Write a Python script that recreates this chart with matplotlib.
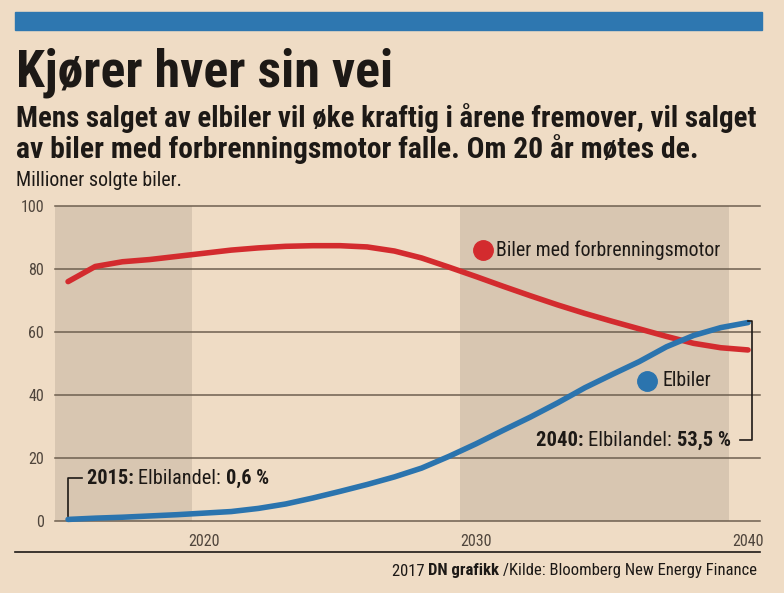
import matplotlib
matplotlib.use("Agg")
import matplotlib.pyplot as plt
from matplotlib import font_manager

# ---- data ----
years = list(range(2015, 2041))
ice_sales = [76.0, 80.8, 82.3, 83.0, 84.0, 85.0, 86.0, 86.7, 87.2, 87.4, 87.4, 87.0, 85.7,
             83.5, 80.6, 77.6, 74.5, 71.5, 68.6, 65.9, 63.4, 61.0, 58.6, 56.4, 55.0, 54.3]
ev_sales = [0.5, 0.9, 1.2, 1.6, 2.0, 2.5, 3.0, 4.0, 5.4, 7.3, 9.4, 11.6, 14.0,
            16.8, 20.5, 24.5, 28.8, 33.0, 37.5, 42.3, 46.5, 50.6, 55.3, 58.9, 61.4, 63.0]
y_ticks = [0, 20, 40, 60, 80, 100]
x_ticks = [2020, 2030, 2040]
shade_spans = [(2014.52, 2019.56), (2029.4, 2039.3)]

title = "Kjører hver sin vei"
subtitle1 = "Mens salget av elbiler vil øke kraftig i årene fremover, vil salget"
subtitle2 = "av biler med forbrenningsmotor falle. Om 20 år møtes de."
unit_label = "Millioner solgte biler."
legend_ice = "Biler med forbrenningsmotor"
legend_ev = "Elbiler"
note_2015 = [("2015: ", "bold"), ("Elbilandel: ", "normal"), ("0,6 %", "heavy")]
note_2040 = [("2040: ", "bold"), ("Elbilandel: ", "normal"), ("53,5 %", "heavy")]
footer = [("2017 ", "normal"), ("DN grafikk", "heavy"), (" /Kilde: Bloomberg New Energy Finance", "normal")]

# ---- style ----
W, H = 784, 593
BG = "#efdcc5"
SHADE = "#d8c6b1"
GRID = "#6e5f50"
RED = "#d32b2e"
BLUE = "#2b74ae"
BAR = "#2e77b0"
INK = "#1d1916"
TICK = "#4f453c"


def pick(cands):
    for c in cands:
        try:
            font_manager.findfont(font_manager.FontProperties(family=c), fallback_to_default=False)
            return c
        except Exception:
            pass
    return "DejaVu Sans"


NARROW = pick(["Liberation Sans Narrow", "Roboto Condensed", "Open Sans Condensed", "Roboto", "Lato"])
FAM = [NARROW, "DejaVu Sans"]

fig = plt.figure(figsize=(W / 100, H / 100), dpi=100)
fig.patch.set_facecolor(BG)
renderer = fig.canvas.get_renderer()


def fx(px):
    return px / W


def fy(py):
    return 1 - py / H


def fit_text(x, y, s, width, size, **kw):
    t = fig.text(fx(x), fy(y), s, fontsize=size, family=FAM, **kw)
    w = t.get_window_extent(renderer).width
    t.set_fontsize(size * width / w)
    return t


def seq_text(x, y, parts, size, ha="left", color=INK):
    # place several runs of text next to each other, in pixels
    widths = []
    for s, wgt in parts:
        t = fig.text(0, 0, s, fontsize=size, family=FAM, fontweight=wgt)
        widths.append(t.get_window_extent(renderer).width)
        t.remove()
    total = sum(widths)
    cx = x if ha == "left" else x - total
    for (s, wgt), w in zip(parts, widths):
        fig.text(fx(cx), fy(y), s, fontsize=size, family=FAM, fontweight=wgt,
                 color=color, va="center", ha="left")
        cx += w


# top blue bar
fig.patches.append(plt.Rectangle((fx(15), fy(30)), fx(762) - fx(15), fy(12) - fy(30),
                                 transform=fig.transFigure, color=BAR, zorder=0))

fit_text(16, 86, title, 376, 40, fontweight="heavy", color=INK, va="baseline")
fit_text(16, 127, subtitle1, 741, 17, fontweight="bold", color=INK, va="baseline")
fit_text(16, 158, subtitle2, 684, 17, fontweight="bold", color=INK, va="baseline")
fit_text(16, 186, unit_label, 166, 10, color=INK, va="baseline")

# ---- chart ----
ax = fig.add_axes([fx(55), fy(521), fx(760) - fx(55), fy(206) - fy(521)])
ax.set_facecolor("none")
ax.set_xlim(2014.52, 2040.44)
ax.set_ylim(0, 100)
for s in ax.spines.values():
    s.set_visible(False)

for a, b in shade_spans:
    ax.axvspan(a, b, color=SHADE, zorder=0, lw=0)
for v in y_ticks:
    ax.axhline(v, color=GRID, lw=1.1, zorder=1, clip_on=False)

ax.plot(years, ice_sales, color=RED, lw=4.0, solid_capstyle="round", solid_joinstyle="round",
        zorder=3, clip_on=False)
ax.plot(years, ev_sales, color=BLUE, lw=4.0, solid_capstyle="round", solid_joinstyle="round",
        zorder=3, clip_on=False)

ax.set_yticks(y_ticks)
ax.set_yticklabels([str(v) for v in y_ticks], family=FAM, fontsize=11.5, color=TICK)
ax.set_xticks(x_ticks)
ax.set_xticklabels([str(v) for v in x_ticks], family=FAM, fontsize=11.5, color=TICK)
ax.tick_params(axis="both", length=0)
ax.tick_params(axis="y", pad=8)
ax.tick_params(axis="x", pad=9)

# legend markers (inline)
ax.plot([2030.25], [86.0], "o", color=RED, ms=14, zorder=4, clip_on=False)
ax.text(2030.75, 86.0, legend_ice, family=FAM, fontsize=14.3, color=INK, va="center", ha="left")
ax.plot([2036.3], [44.6], "o", color=BLUE, ms=14, zorder=4, clip_on=False)
ax.text(2036.85, 44.6, legend_ev, family=FAM, fontsize=14.3, color=INK, va="center", ha="left")

# annotation brackets
ax.plot([2015.0, 2015.0, 2015.5], [1.5, 13.8, 13.8], color=INK, lw=1.2, zorder=5, clip_on=False)
ax.plot([2039.7, 2040.15, 2040.15, 2040.0], [25.8, 25.8, 63.4, 63.4], color=INK, lw=1.2,
        zorder=5, clip_on=False)

seq_text(87, 478, note_2015, 14.6, ha="left")
seq_text(731, 440, note_2040, 14.8, ha="right")

# bottom rule and footer
fig.add_artist(plt.Line2D([fx(15), fx(760)], [fy(552), fy(552)], transform=fig.transFigure,
                          color=INK, lw=1.2))
seq_text(757, 571, footer, 12, ha="right")

fig.savefig("out.png", dpi=100, facecolor=BG)
